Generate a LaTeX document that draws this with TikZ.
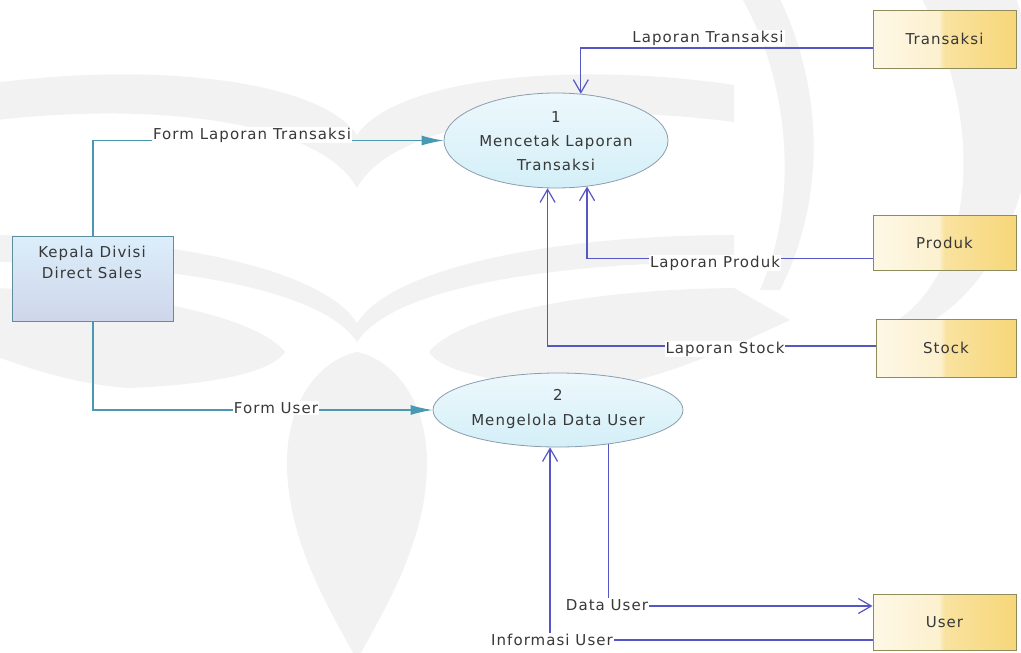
\documentclass[tikz,border=0pt]{standalone}
\usepackage{fontspec}
\setmainfont{DejaVu Sans}[LetterSpace=7]
\usetikzlibrary{arrows.meta,shapes.geometric}

\definecolor{txt}{HTML}{383838}
\definecolor{tealline}{HTML}{4A98B2}
\definecolor{flowline}{HTML}{5656C4}
\definecolor{storeY}{HTML}{F4CB52}
\definecolor{storeEdge}{HTML}{8E8C5C}
\definecolor{procEdge}{HTML}{8A9CAE}
\definecolor{entEdge}{HTML}{5E8E9E}
\definecolor{wmark}{HTML}{F2F2F2}

\pgfdeclarehorizontalshading{storefill}{100bp}{%
  color(0bp)=(white); color(48bp)=(storeY!28!white);
  color(50bp)=(storeY!55!white); color(100bp)=(storeY)}

\tikzset{
  entity/.style={draw=entEdge, line width=1pt, top color={rgb,255:red,220;green,238;blue,251},
    bottom color={rgb,255:red,206;green,214;blue,234}, minimum width=161pt, minimum height=85pt},
  proc/.style={ellipse, draw=procEdge, line width=0.8pt, top color={rgb,255:red,236;green,248;blue,252},
    bottom color={rgb,255:red,212;green,239;blue,248}, inner sep=0pt},
  store/.style={draw=storeEdge, line width=1pt, shading=storefill, text=txt,
    minimum width=143pt, minimum height=58pt},
  txtnode/.style={text=txt, align=center},
  lbl/.style={fill=white, inner sep=1pt, text=txt},
  tealflow/.style={draw=tealline, line width=1.2pt,
    -{Latex[length=22pt,width=10pt]}},
  dataflow/.style={draw=flowline, line width=1.2pt,
    -{Straight Barb[length=13pt,width=15pt,line width=1.2pt]}},
}

\begin{document}
\begin{tikzpicture}[x=1pt,y=-1pt,font=\fontsize{15}{17}\selectfont]
\useasboundingbox (0,0) rectangle (1021,653);
\fill[white] (0,0) rectangle (1021,653);

% faint background emblem: stacked chevrons, a flame and side arcs
\begin{scope}
  \clip (0,0) rectangle (1021,653);
  \fill[wmark] (-20,122) .. controls (150,100) and (320,120) .. (357,188)
    .. controls (394,120) and (564,100) .. (734,122)
    -- (734,85) .. controls (564,60) and (394,80) .. (357,135)
    .. controls (320,80) and (150,60) .. (-20,85) -- cycle;
  \fill[wmark] (-20,235) .. controls (150,235) and (320,265) .. (357,323)
    .. controls (394,265) and (564,235) .. (734,235)
    -- (734,262) .. controls (564,262) and (394,285) .. (357,342)
    .. controls (320,285) and (150,262) .. (-20,262) -- cycle;
  \fill[wmark] (-20,288) .. controls (150,290) and (260,320) .. (285,352)
    .. controls (270,375) and (200,385) .. (130,388)
    .. controls (80,385) and (30,370) .. (-20,350) -- cycle;
  \fill[wmark] (734,288) .. controls (564,290) and (454,320) .. (429,352)
    .. controls (444,375) and (514,385) .. (584,388)
    .. controls (634,385) and (684,370) .. (790,320) -- cycle;
  \fill[wmark] (357,352) .. controls (320,360) and (288,400) .. (287,460)
    .. controls (286,540) and (330,610) .. (357,660)
    .. controls (384,610) and (428,540) .. (427,460)
    .. controls (426,400) and (394,360) .. (357,352) -- cycle;
  \fill[wmark] (920,-5) .. controls (1000,150) and (960,300) .. (878,330)
    -- (905,335) .. controls (1020,290) and (1060,120) .. (1015,-5) -- cycle;
  \fill[wmark] (740,-5) .. controls (790,80) and (800,200) .. (760,290)
    -- (780,290) .. controls (830,190) and (820,80) .. (778,-5) -- cycle;
\end{scope}

% external entity and processes
\node[entity] (kepala) at (93,279) {};
\node[txtnode, font=\fontsize{15}{21}\selectfont] (kepalaT) at (92,262) {Kepala Divisi\\Direct Sales};

\node[proc, minimum width=224pt, minimum height=95pt] (p1) at (556,140.5) {};
\node[txtnode, font=\fontsize{15}{24}\selectfont] (p1T) at (556,141) {1\\Mencetak Laporan\\Transaksi};

\node[proc, minimum width=250pt, minimum height=74pt] (p2) at (558,410) {};
\node[txtnode, font=\fontsize{15}{25}\selectfont] (p2T) at (558,409) {2\\Mengelola Data User};

% data stores
\node[store] (trans) at (944.5,39) {Transaksi};
\node[store, minimum height=55pt] (prod) at (944.5,242.5) {Produk};
\node[store, minimum width=140pt] (stock) at (946,348) {Stock};
\node[store, minimum height=56pt] (user) at (944.5,622) {User};

% flows from the entity
\draw[tealflow] (kepala.north) |- (p1.west);
\draw[tealflow] (kepala.south) |- (p2.west);

% flows between stores and processes
\draw[dataflow] ([yshift=-9pt]trans.west) -| (p1.62);
\draw[dataflow] ([yshift=-16pt]prod.west) -| (p1.-56);
\draw[dataflow] ([yshift=2pt]stock.west) -| (p1.-100);
\draw[dataflow] (p2.-34) |- ([yshift=16pt]user.west);
\draw[dataflow] ([yshift=-18pt]user.west) -| (p2.-102);

% flow labels
\node[lbl] (lFLT) at (252,135) {Form Laporan Transaksi};
\node[lbl] (lFU) at (276,408) {Form User};
\node[lbl] (lLT) at (708,38) {Laporan Transaksi};
\node[lbl] (lLP) at (715,263) {Laporan Produk};
\node[lbl] (lLS) at (725,349) {Laporan Stock};
\node[lbl] (lDU) at (607,605) {Data User};
\node[lbl] (lIU) at (552,640) {Informasi User};
\end{tikzpicture}
\end{document}
